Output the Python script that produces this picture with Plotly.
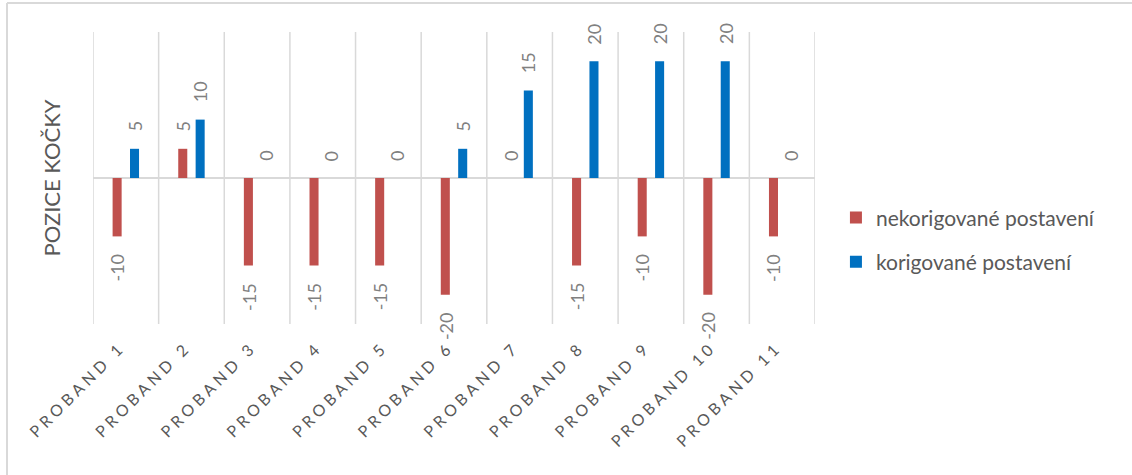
import plotly.graph_objects as go

categories = [f"PROBAND {i}" for i in range(1, 12)]
nekorigovane = [-10, 5, -15, -15, -15, -20, 0, -15, -10, -20, -10]
korigovane = [5, 10, 0, 0, 0, 5, 15, 20, 20, 20, 0]

RED = "#C0504D"
BLUE = "#0070C0"
GRID = "#D9D9D9"
TEXT = "#595959"
LABEL = "#808080"
FONT = "Lato, 'Open Sans', sans-serif"

xs = list(range(len(categories)))

fig = go.Figure()
fig.add_bar(x=xs, y=nekorigovane, name="nekorigované postavení",
            marker=dict(color=RED, line=dict(width=0)), legendgroup="a")
fig.add_bar(x=xs, y=korigovane, name="korigované postavení",
            marker=dict(color=BLUE, line=dict(width=0)), legendgroup="b")

# value labels, rotated, placed just beyond the end of each bar
slot = 0.265
for series, shift in ((nekorigovane, -slot / 2), (korigovane, slot / 2)):
    for i, v in zip(xs, series):
        neg = v < 0
        fig.add_annotation(
            x=i + shift, y=v, xref="x", yref="y", text=str(v),
            showarrow=False, textangle=-90,
            yanchor="top" if neg else "bottom",
            yshift=-15 if neg else 15,
            font=dict(family=FONT, size=18, color=LABEL),
        )

# vertical separators between categories (including both outer edges)
for k in range(len(categories) + 1):
    b = k - 0.5
    fig.add_shape(type="line", xref="x", yref="paper", x0=b, x1=b, y0=0, y1=1,
                  line=dict(color=GRID, width=1.5), layer="below")

spaced = [f"<span style='letter-spacing:4px'>{c}</span>" for c in categories]

fig.update_layout(
    width=1132, height=475,
    margin=dict(l=93, r=317, t=32, b=151),
    paper_bgcolor="white", plot_bgcolor="white",
    barmode="group", bargap=0.47, bargroupgap=0.48,
    font=dict(family=FONT, color=TEXT),
    showlegend=True,
    legend=dict(x=1.029, y=0.288, xanchor="left", yanchor="middle",
                font=dict(family=FONT, size=21, color=TEXT),
                tracegroupgap=14, itemwidth=30),
    xaxis=dict(
        range=[-0.5, 10.5], tickmode="array", tickvals=xs, ticktext=spaced,
        tickangle=-45, showgrid=False, zeroline=False, showline=False,
        ticks="", ticklabelstandoff=10, ticklabelshift=-5,
        tickfont=dict(family=FONT, size=16, color=TEXT),
    ),
    yaxis=dict(
        range=[-25, 25], showticklabels=False, showgrid=False,
        zeroline=True, zerolinecolor=GRID, zerolinewidth=1.5, showline=False,
        title=dict(text="POZICE KOČKY", standoff=25,
                   font=dict(family=FONT, size=22, color=TEXT)),
    ),
)

# outer chart frame (top and left edges)
fig.add_shape(type="line", xref="paper", yref="paper",
              x0=-86 / 722, x1=1.45, y0=1 + 29 / 292, y1=1 + 29 / 292,
              line=dict(color=GRID, width=2))
fig.add_shape(type="line", xref="paper", yref="paper",
              x0=-86 / 722, x1=-86 / 722, y0=1 + 29 / 292, y1=-0.52,
              line=dict(color=GRID, width=2))

fig.write_html("out.html")
